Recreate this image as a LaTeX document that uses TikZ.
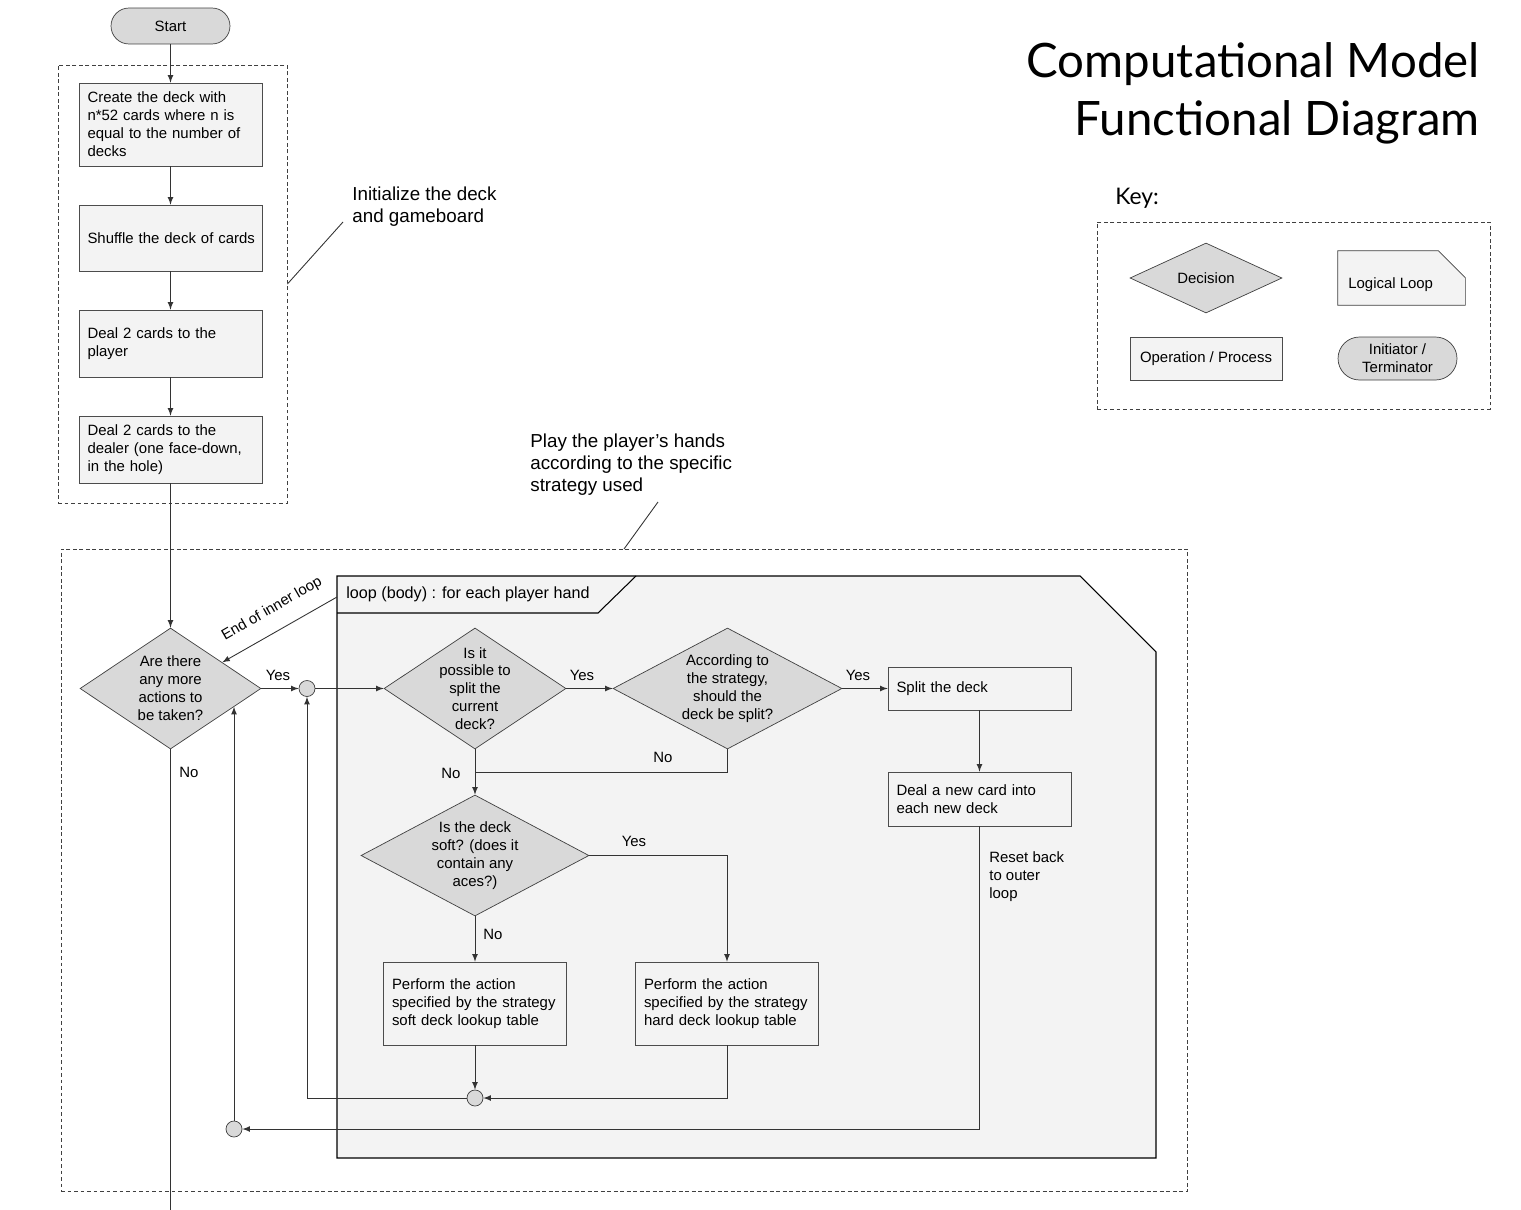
\documentclass[tikz,border=0pt]{standalone}
\usepackage{fontspec}
\setmainfont{Liberation Sans}
\newfontfamily\titlefont{Lato}
\usetikzlibrary{shapes.geometric, calc}
\definecolor{BoxColor}{HTML}{F3F3F3}
\definecolor{DecisionColor}{HTML}{D9D9D9}
\definecolor{LineColor}{HTML}{333333}
\newcommand{\bodyfont}{\fontsize{8.5}{10.2}\selectfont}
\newcommand{\notefont}{\fontsize{10.7}{12.5}\selectfont}
\tikzstyle{process_element}=[rectangle,
                              draw=black!70,
                              fill={BoxColor},
                              minimum width=3.66cm,
                              text width=3.32cm,
                              inner xsep=0.17cm,
                              align=left,
                              font=\bodyfont, ]
\tikzstyle{decision_element}=[diamond,
                               draw=black!75,
                               fill={DecisionColor},
                               inner sep=0pt, ]
\tikzstyle{decision_text}=[align=center,
                            font=\bodyfont,
                            inner sep=0pt, ]
\tikzstyle{terminator_element}=[rectangle,
                                 rounded corners=0.36cm,
                                 minimum width=2.38cm,
                                 minimum height=0.72cm,
                                 draw=black!75,
                                 fill={DecisionColor},
                                 font=\bodyfont, ]
\tikzstyle{junction_element}=[circle,
                               minimum size=0.32cm,
                               inner sep=0pt,
                               draw=black!75,
                               fill={DecisionColor}, ]
\tikzstyle{frame_element}=[rectangle,
                            draw=black!75,
                            line width=0.5pt,
                            dash pattern=on 2.2pt off 1.5pt, ]
\tikzstyle{flow_line}=[draw=LineColor, line width=0.5pt]
\tikzstyle{flow_arrow}=[flow_line, -latex]
\tikzstyle{flow_label}=[font=\bodyfont, inner sep=0pt]

\begin{document}
\begin{tikzpicture}[x=0.02cm, y=-0.02cm]
    \useasboundingbox (0,0) rectangle (1521,1210);

    % frames
    \node at (172.5, 284) (init_frame) [frame_element, minimum width=4.58cm, minimum height=8.76cm] {};
    \node at (624.5, 870) (main_frame) [frame_element, minimum width=22.54cm, minimum height=12.84cm] {};
    \node at (1293.5, 315.5) (key_frame) [frame_element, minimum width=7.86cm, minimum height=3.74cm] {};

    % loop body
    \draw[fill={BoxColor}, draw=black, line width=0.6pt] (337,576) -- (1080,576) -- (1156,652) -- (1156,1158) -- (337,1158) -- cycle;
    \draw[draw=black, line width=0.6pt] (337,613) -- (598,613) -- (636,576);
    \node at (346, 594.5) (loop_header) [anchor=west, inner sep=0pt, font=\fontsize{9.2}{11}\selectfont] {loop (body) : for each player hand};
    \coordinate (header_edge) at (337,597);

    % title and notes
    \node at (1480, 77) (title_first) [anchor=base east, inner sep=0pt, font=\titlefont\fontsize{27}{33}\selectfont] {Computational Model};
    \node at (1480, 135) (title_second) [anchor=base east, inner sep=0pt, font=\titlefont\fontsize{27}{33}\selectfont] {Functional Diagram};
    \node at (352, 187) (init_note) [anchor=north west, inner sep=0pt, align=left, font=\notefont] {Initialize the deck\\and gameboard};
    \node at (530, 434) (play_note) [anchor=north west, inner sep=0pt, align=left, font=\notefont] {Play the player’s hands\\according to the specific\\strategy used};
    \coordinate (init_tip) at (343,222);
    \coordinate (play_tip) at (658,502);
    \coordinate (play_foot) at (624,549);
    \draw[flow_line] (init_frame.east) -- (init_tip);
    \draw[flow_line] (play_foot) -- (play_tip);

    % initialisation
    \node at (170.5, 26) (start) [terminator_element] {Start};
    \node at (170.5, 124.5) (create_deck) [process_element, minimum height=1.66cm] {Create the deck with\\n*52 cards where n is\\equal to the number of\\decks};
    \node at (170.5, 238) (shuffle_deck) [process_element, minimum height=1.32cm] {\mbox{Shuffle the deck of cards}};
    \node at (170.5, 343.5) (deal_player) [process_element, minimum height=1.34cm] {Deal 2 cards to the\\player};
    \node at (170.5, 449.5) (deal_dealer) [process_element, minimum height=1.34cm] {Deal 2 cards to the\\dealer (one face-down,\\in the hole)};

    % decisions
    \node at (170.5, 688.5) (more_actions) [decision_element, minimum width=3.62cm, minimum height=2.42cm] {};
    \node at (more_actions) (more_actions_text) [decision_text] {Are there\\any more\\actions to\\be taken?};
    \node at (475, 688.5) (can_split) [decision_element, minimum width=3.64cm, minimum height=2.42cm] {};
    \node at (can_split) (can_split_text) [decision_text] {Is it\\possible to\\split the\\current\\deck?};
    \node at (727.5, 688.5) (should_split) [decision_element, minimum width=4.58cm, minimum height=2.42cm] {};
    \node at (should_split) (should_split_text) [decision_text] {According to\\the strategy,\\should the\\deck be split?};
    \node at (475, 855.5) (is_soft) [decision_element, minimum width=4.56cm, minimum height=2.42cm] {};
    \node at (is_soft) (is_soft_text) [decision_text] {Is the deck\\soft? (does it\\contain any\\aces?)};

    % actions
    \node at (979.5, 688.5) (split_deck) [process_element, minimum height=0.86cm] {Split the deck};
    \node at (979.5, 799) (deal_new) [process_element, minimum height=1.08cm] {Deal a new card into\\each new deck};
    \node at (475, 1003.5) (soft_action) [process_element, minimum height=1.66cm] {Perform the action\\specified by the strategy\\soft deck lookup table};
    \node at (727, 1003.5) (hard_action) [process_element, minimum height=1.66cm] {Perform the action\\specified by the strategy\\hard deck lookup table};

    % junctions
    \node at (307, 688.5) (outer_join) [junction_element] {};
    \node at (475, 1098) (inner_join) [junction_element] {};
    \node at (234, 1129) (reset_join) [junction_element] {};
    \coordinate (flow_exit) at (170.5,1210);
    \coordinate (more_entry) at ($(more_actions.east)!0.3!(more_actions.south)$);

    % connectors
    \foreach \a/\b in {start/create_deck, create_deck/shuffle_deck, shuffle_deck/deal_player,
                       deal_player/deal_dealer, deal_dealer/more_actions} {
      \draw[flow_arrow] (\a.south) -- (\b.north);
    }
    \draw[flow_arrow] (more_actions.east) -- (outer_join.west);
    \draw[flow_arrow] (outer_join.east) -- (can_split.west);
    \draw[flow_arrow] (can_split.east) -- (should_split.west);
    \draw[flow_arrow] (should_split.east) -- (split_deck.west);
    \draw[flow_arrow] (split_deck.south) -- (deal_new.north);
    \draw[flow_arrow] (deal_new.south) |- (reset_join.east);
    \draw[flow_arrow] (reset_join.north) -- (reset_join.north |- more_entry);
    \draw[flow_arrow] (can_split.south) -- (is_soft.north);
    \draw[flow_line] (should_split.south) |- ($(can_split.south)!0.5!(is_soft.north)$);
    \draw[flow_arrow] (is_soft.east) -| (hard_action.north);
    \draw[flow_arrow] (is_soft.south) -- (soft_action.north);
    \draw[flow_arrow] (soft_action.south) -- (inner_join.north);
    \draw[flow_arrow] (hard_action.south) |- (inner_join.east);
    \draw[flow_arrow] (inner_join.west) -| (outer_join.south);
    \draw[flow_arrow] (header_edge) -- ($(more_actions.north)!0.57!(more_actions.east)$);
    \draw[flow_line] (more_actions.south) -- (flow_exit);

    % labels
    \foreach \x/\y/\n in {278/675/1, 582/675/2, 858/675/3, 634/841/4} {
      \node at (\x, \y) (yes_\n) [flow_label] {Yes};
    }
    \foreach \x/\y/\n in {189/772/1, 451/773/2, 663/757/3, 493/934/4} {
      \node at (\x, \y) (no_\n) [flow_label] {No};
    }
    \node at (272, 609) (inner_end_label) [flow_label, rotate=30] {End of inner loop};
    \node at (989, 851) (reset_label) [flow_label, anchor=north west, align=left] {Reset back\\to outer\\loop};

    % key
    \node at (1115, 204) (key_label) [anchor=base west, inner sep=0pt, font=\titlefont\fontsize{13}{15}\selectfont] {Key:};
    \node at (1206, 278) (key_decision) [decision_element, minimum width=3.04cm, minimum height=1.4cm] {};
    \node at (key_decision) (key_decision_text) [decision_text] {Decision};
    \node at (1401.5, 278) (key_loop) [rectangle, minimum width=2.54cm, minimum height=1.08cm] {};
    \draw[draw=black!75, fill={BoxColor}] (key_loop.south west) -- (key_loop.north west)
      -- ([xshift=-0.54cm]key_loop.north east) -- ([yshift=-0.54cm]key_loop.north east)
      -- (key_loop.south east) -- cycle;
    \node at (1348, 285) (key_loop_text) [flow_label, anchor=west] {Logical Loop};
    \node at (1206, 358.5) (key_process) [rectangle, minimum width=3.04cm, minimum height=0.86cm,
                                          draw=black!70, fill={BoxColor}, font=\bodyfont] {Operation / Process};
    \node at (1397.5, 358.5) (key_terminator) [terminator_element, minimum height=0.86cm,
                                               rounded corners=0.43cm, align=center] {Initiator /\\Terminator};
\end{tikzpicture}
\end{document}
